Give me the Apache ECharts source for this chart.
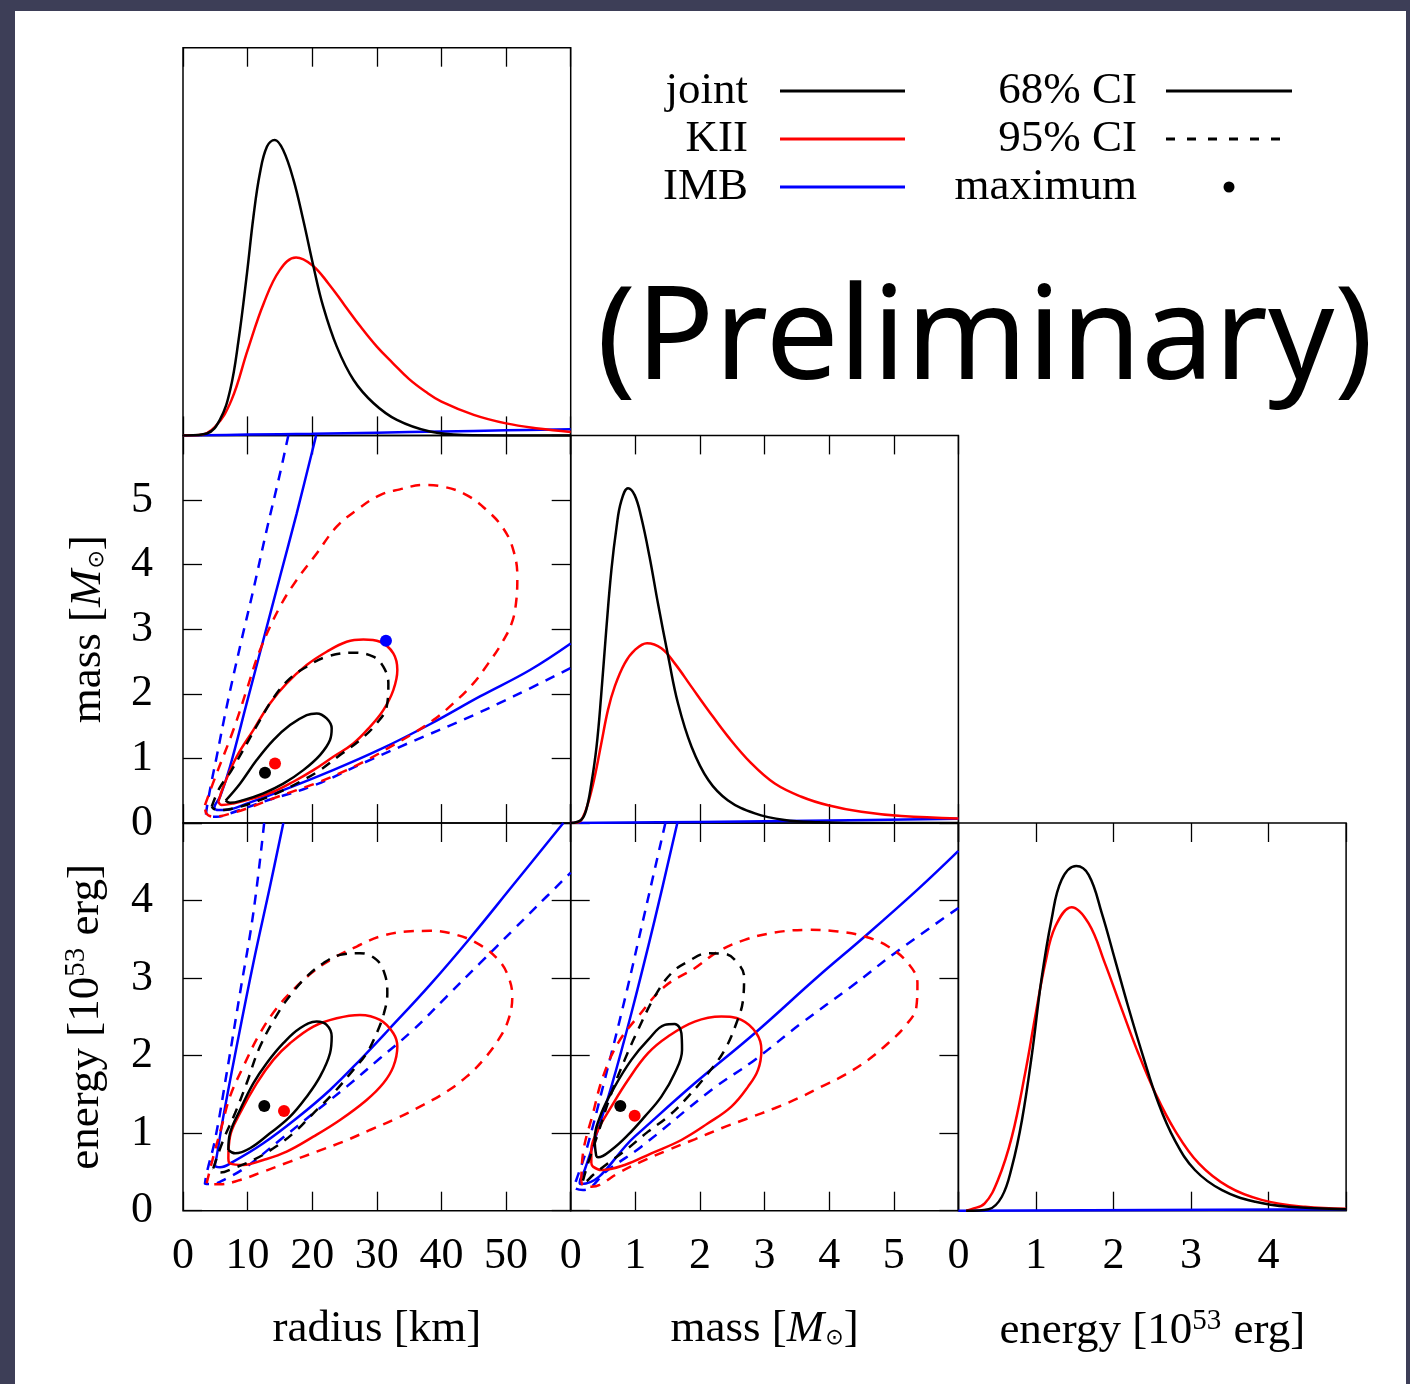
<!DOCTYPE html>
<html>
<head>
<meta charset="utf-8">
<script src="https://cdn.jsdelivr.net/npm/echarts/dist/echarts.min.js"></script>
<style>
  html, body { margin: 0; padding: 0; background: #3d3e57; }
  #paper { position: absolute; left: 15px; top: 11px; width: 1391px; height: 1373px; background: #ffffff; }
  #chart { position: absolute; left: 0; top: 0; width: 1410px; height: 1384px; }
</style>
</head>
<body>
<div id="paper"></div>
<div id="chart"></div>
<script>
// ---------- sample names, colours and credible levels ----------
const sampleNames = ['joint', 'KII', 'IMB'];
const sampleColors = ['#000000', '#ff0000', '#0000ff'];
const levelNames = ['68% CI', '95% CI', 'maximum'];

// ---------- tick labels ----------
const radiusTicks = [0, 10, 20, 30, 40, 50];
const massTicks = [0, 1, 2, 3, 4, 5];
const energyTicks = [0, 1, 2, 3, 4];

// ---------- 1D marginal posteriors (relative density, [value, height]) ----------
const radiusJoint = [[0,0],[0.6,0],[3.7,0.005],[5.7,0.04],[7.3,0.117],[8.6,0.246],[9.9,0.418],[10.9,0.564],[11.9,0.676],[13.0,0.745],[14.2,0.762],[15.5,0.736],[17.1,0.659],[18.6,0.556],[20.2,0.435],[21.7,0.332],[23.8,0.229],[26.4,0.143],[29.5,0.083],[33.1,0.040],[38.2,0.010],[43.4,0.001],[50,0],[60,0]];
const radiusKII = [[0,0],[2.5,0.001],[5,0.023],[7.5,0.091],[10,0.220],[12.5,0.341],[15,0.427],[17.5,0.459],[20,0.439],[22.5,0.392],[25,0.336],[27.5,0.280],[30,0.229],[32.5,0.186],[35,0.145],[37.5,0.113],[40,0.087],[45,0.053],[50,0.031],[55,0.018],[60,0.009]];
const radiusIMB = [[0,0],[10,0.002],[20,0.004],[30,0.007],[40,0.010],[50,0.013],[60,0.016]];

const massJoint = [[0,0],[0.16,0.008],[0.24,0.034],[0.32,0.102],[0.40,0.197],[0.47,0.326],[0.55,0.498],[0.63,0.653],[0.71,0.764],[0.78,0.829],[0.887,0.864],[0.99,0.846],[1.09,0.790],[1.22,0.687],[1.35,0.567],[1.51,0.429],[1.66,0.309],[1.87,0.197],[2.13,0.111],[2.43,0.059],[2.85,0.025],[3.31,0.008],[3.83,0.002],[4.5,0],[6,0]];
const massKII = [[0,0],[0.08,0.001],[0.164,0.008],[0.268,0.051],[0.371,0.119],[0.474,0.206],[0.577,0.292],[0.681,0.352],[0.836,0.412],[0.991,0.446],[1.181,0.464],[1.403,0.451],[1.61,0.412],[1.867,0.352],[2.125,0.292],[2.435,0.223],[2.796,0.154],[3.158,0.102],[3.57,0.068],[3.983,0.046],[4.499,0.029],[5.118,0.018],[6.0,0.012]];
const massIMB = [[0,0],[2,0.003],[4,0.007],[6,0.011]];

const energyJoint = [[0.1,0],[0.39,0.004],[0.56,0.036],[0.69,0.113],[0.82,0.234],[0.95,0.406],[1.07,0.595],[1.20,0.750],[1.33,0.853],[1.52,0.889],[1.68,0.866],[1.85,0.767],[2.02,0.647],[2.19,0.526],[2.37,0.406],[2.58,0.277],[2.79,0.182],[3.05,0.105],[3.40,0.053],[3.83,0.023],[4.26,0.010],[5.0,0.004]];
const energyKII = [[0.1,0],[0.17,0.004],[0.34,0.019],[0.51,0.079],[0.69,0.191],[0.86,0.354],[0.99,0.500],[1.12,0.638],[1.25,0.733],[1.46,0.783],[1.68,0.741],[1.89,0.638],[2.11,0.518],[2.32,0.406],[2.54,0.303],[2.79,0.208],[3.10,0.122],[3.48,0.062],[3.91,0.028],[4.47,0.010],[5.0,0.005]];
const energyIMB = [[0,0],[2.5,0.002],[5,0.004]];

// ---------- 2D credible contours: radius [km] vs mass [Msun] ----------
const rmJoint68 = [[6.6,0.35],[8.82,0.61],[11.40,0.975],[13.98,1.285],[16.56,1.517],[19.14,1.672],[20.69,1.698],[22.23,1.62],[23.01,1.466],[22.75,1.285],[21.2,1.053],[18.62,0.82],[15.52,0.61],[12.43,0.46],[9.33,0.356],[7.27,0.315],[6.6,0.35]];
const rmJoint95 = [[4.44,0.253],[5.62,0.537],[7.53,0.82],[11.92,1.594],[14.13,1.956],[16.56,2.24],[19.14,2.42],[22.23,2.575],[26.36,2.637],[29.45,2.575],[31.0,2.42],[31.78,2.162],[31.52,1.801],[29.97,1.543],[27.39,1.285],[24.30,1.053],[21.2,0.82],[18.1,0.64],[15.01,0.485],[11.92,0.356],[7.79,0.227],[5.21,0.201],[4.44,0.253]];
const rmKII68 = [[5.47,0.33],[6.24,0.562],[8.30,1.027],[10.88,1.44],[13.46,1.852],[16.04,2.162],[19.14,2.446],[22.23,2.652],[25.33,2.807],[27.91,2.843],[30.49,2.807],[32.55,2.626],[33.17,2.368],[32.55,2.059],[31.0,1.749],[28.94,1.491],[26.36,1.233],[23.26,1.027],[20.17,0.82],[17.07,0.64],[13.98,0.485],[10.88,0.382],[7.79,0.304],[5.98,0.279],[5.47,0.33]];
const rmKII95 = [[3.40,0.279],[5.21,0.769],[7.79,1.44],[9.85,2.059],[11.92,2.678],[15.01,3.349],[17.59,3.762],[20.69,4.174],[23.78,4.587],[26.88,4.845],[30.49,5.077],[33.58,5.165],[37.19,5.232],[40.29,5.206],[43.9,5.077],[46.99,4.845],[49.57,4.561],[51.12,4.226],[51.74,3.813],[51.53,3.4],[50.86,3.091],[49.31,2.781],[47.25,2.472],[44.93,2.162],[41.83,1.852],[38.74,1.594],[35.64,1.388],[32.55,1.207],[28.94,1.001],[25.33,0.82],[21.2,0.64],[17.59,0.511],[13.98,0.382],[10.88,0.263],[7.79,0.16],[4.69,0.098],[3.56,0.16],[3.40,0.279]];
const rmIMB68 = [[20.6,6.0],[19.91,5.72],[17.59,4.79],[15.01,3.813],[12.43,2.833],[9.85,1.852],[7.27,0.872],[5.73,0.408],[4.85,0.243],[5.47,0.201],[7.27,0.212],[9.85,0.30],[15.01,0.49],[22.75,0.80],[30.49,1.14],[38.22,1.53],[45.96,1.96],[53.7,2.37],[60,2.78]];
const rmIMB95 = [[16.3,6.0],[15.01,5.41],[12.95,4.536],[10.88,3.607],[8.82,2.73],[6.76,1.801],[5.21,1.027],[4.07,0.459],[3.56,0.124],[5.21,0.098],[7.27,0.15],[12.43,0.33],[20.17,0.58],[27.91,0.93],[35.64,1.27],[43.39,1.60],[51.12,1.96],[60,2.40]];
const rmMaxJoint = [12.69, 0.779];
const rmMaxKII = [14.24, 0.924];
const rmMaxIMB = [31.41, 2.822];

// ---------- 2D credible contours: radius [km] vs energy [1e53 erg] ----------
const reJoint68 = [[7.02,0.783],[7.27,0.998],[8.82,1.299],[10.88,1.643],[12.95,1.902],[15.52,2.16],[18.1,2.353],[20.69,2.439],[22.23,2.396],[23.01,2.246],[22.75,2.031],[21.2,1.729],[19.14,1.471],[16.56,1.213],[13.46,0.998],[10.37,0.805],[8.05,0.74],[7.02,0.783]];
const reJoint95 = [[4.69,0.547],[6.24,0.912],[8.05,1.256],[9.85,1.643],[11.92,2.117],[15.01,2.59],[17.07,2.826],[19.14,3.02],[21.71,3.192],[24.3,3.299],[27.39,3.321],[29.97,3.235],[31.26,3.041],[31.62,2.805],[31.1,2.547],[29.97,2.289],[28.42,2.031],[26.36,1.816],[23.26,1.514],[20.17,1.256],[17.07,0.998],[13.98,0.805],[10.88,0.654],[7.79,0.547],[5.73,0.491],[4.69,0.547]];
const reKII68 = [[7.02,0.676],[7.27,0.955],[8.82,1.256],[11.4,1.643],[13.98,1.945],[16.56,2.16],[20.17,2.375],[23.78,2.482],[27.39,2.525],[30.49,2.461],[32.55,2.289],[33.17,2.117],[32.55,1.858],[31.0,1.643],[28.42,1.428],[24.3,1.17],[20.17,0.955],[16.04,0.762],[12.43,0.654],[9.33,0.59],[7.27,0.611],[7.02,0.676]];
const reKII95 = [[3.66,0.353],[4.69,0.697],[5.98,1.084],[7.27,1.471],[9.33,1.858],[11.92,2.289],[14.5,2.611],[17.07,2.848],[20.17,3.084],[23.26,3.256],[26.88,3.407],[30.49,3.536],[34.61,3.6],[38.22,3.609],[42.35,3.557],[45.96,3.428],[48.8,3.235],[50.35,3.02],[50.96,2.762],[50.35,2.461],[48.8,2.203],[46.48,1.945],[43.9,1.729],[40.8,1.536],[37.19,1.364],[33.07,1.192],[28.94,1.041],[24.81,0.891],[20.69,0.762],[16.56,0.633],[12.43,0.504],[8.82,0.396],[5.73,0.34],[3.92,0.344],[3.66,0.353]];
const reIMB68 = [[15.53,5.0],[13.46,4.181],[10.88,3.192],[8.3,2.117],[6.24,1.213],[5.21,0.697],[4.95,0.59],[5.73,0.56],[7.79,0.633],[12.43,0.869],[17.59,1.192],[22.75,1.557],[27.65,1.966],[32.03,2.353],[38.22,2.912],[44.41,3.514],[51.12,4.203],[58.86,5.0]];
const reIMB95 = [[12.56,5.0],[10.88,3.837],[8.82,2.805],[6.76,1.772],[4.95,0.912],[3.66,0.482],[3.4,0.345],[4.43,0.344],[6.76,0.418],[9.85,0.568],[15.01,0.912],[20.17,1.256],[25.33,1.6],[30.49,1.966],[35.64,2.332],[40.8,2.762],[45.96,3.192],[51.12,3.622],[56.28,4.052],[60,4.36]];
const reMaxJoint = [12.58, 1.351];
const reMaxKII = [15.63, 1.286];

// ---------- 2D credible contours: mass [Msun] vs energy [1e53 erg] ----------
const meJoint68 = [[0.397,0.697],[0.371,0.912],[0.474,1.256],[0.681,1.6],[0.939,1.945],[1.197,2.203],[1.455,2.396],[1.609,2.409],[1.713,2.289],[1.723,2.074],[1.609,1.772],[1.403,1.471],[1.145,1.213],[0.887,0.977],[0.629,0.783],[0.423,0.689],[0.397,0.697]];
const meJoint95 = [[0.19,0.388],[0.268,0.611],[0.423,0.998],[0.629,1.514],[0.835,1.945],[1.042,2.332],[1.3,2.762],[1.558,3.063],[1.816,3.213],[2.125,3.321],[2.383,3.312],[2.564,3.213],[2.683,3.02],[2.667,2.719],[2.564,2.418],[2.383,2.074],[2.125,1.772],[1.816,1.471],[1.506,1.213],[1.197,1.02],[0.887,0.805],[0.577,0.611],[0.345,0.461],[0.216,0.375],[0.19,0.388]];
const meKII68 = [[0.319,0.611],[0.319,0.783],[0.423,1.041],[0.629,1.342],[0.887,1.686],[1.197,2.031],[1.506,2.246],[1.919,2.439],[2.332,2.504],[2.641,2.461],[2.874,2.289],[2.951,2.074],[2.899,1.816],[2.745,1.6],[2.487,1.342],[2.125,1.127],[1.713,0.912],[1.248,0.74],[0.835,0.59],[0.474,0.525],[0.345,0.568],[0.319,0.611]];
const meKII95 = [[0.165,0.375],[0.19,0.74],[0.345,1.256],[0.5,1.729],[0.732,2.16],[1.042,2.504],[1.455,2.891],[1.919,3.127],[2.28,3.342],[2.693,3.493],[3.157,3.587],[3.673,3.622],[4.138,3.6],[4.551,3.536],[4.912,3.407],[5.221,3.192],[5.366,2.934],[5.35,2.633],[5.17,2.375],[4.912,2.16],[4.602,1.945],[4.241,1.751],[3.88,1.6],[3.519,1.45],[3.157,1.321],[2.745,1.192],[2.332,1.063],[1.919,0.921],[1.506,0.783],[1.093,0.633],[0.732,0.482],[0.448,0.332],[0.319,0.31],[0.19,0.33],[0.165,0.375]];
const meIMB68 = [[1.65,5.0],[1.3,3.751],[0.939,2.547],[0.629,1.6],[0.371,0.912],[0.216,0.525],[0.139,0.362],[0.165,0.345],[0.99,0.955],[1.919,1.643],[2.848,2.289],[3.828,3.02],[4.551,3.536],[5.376,4.147],[6.0,4.64]];
const meIMB95 = [[1.465,5.0],[1.145,3.837],[0.835,2.719],[0.526,1.686],[0.242,0.783],[0.087,0.396],[0.051,0.31],[0.19,0.267],[0.577,0.525],[1.093,0.826],[2.177,1.557],[2.848,1.945],[3.57,2.418],[4.344,2.891],[5.015,3.321],[6.0,3.905]];
const meMaxJoint = [0.768, 1.351];
const meMaxKII = [0.99, 1.226];

// ---------- layout ----------
const cell = 387.7;
const colLeft = [183, 570.7, 958.4];
const rowTop = [47.7, 435.4, 823];
const SERIF = 'Liberation Serif';
const INK = '#000000';
const LINE_W = 2.5;

const ranges = {
  radius: { min: 0, max: 60, interval: 10, ticks: radiusTicks },
  mass:   { min: 0, max: 6,  interval: 1,  ticks: massTicks },
  energy: { min: 0, max: 5,  interval: 1,  ticks: energyTicks },
  density:{ min: 0, max: 1 }
};

const nameRich = {
  t:   { fontFamily: SERIF, fontSize: 45, color: INK },
  i:   { fontFamily: SERIF, fontSize: 45, fontStyle: 'italic', color: INK },
  sub: { fontFamily: 'DejaVu Sans', fontSize: 22, color: INK, padding: [18, 0, 0, 1] },
  sup: { fontFamily: SERIF, fontSize: 29, color: INK, padding: [0, 1, 20, 0] }
};
const axisNames = {
  radius: '{t|radius [km]}',
  mass:   '{t|mass [}{i|M}{sub|⊙}{t|]}',
  energy: '{t|energy [10}{sup|53}{t| erg]}'
};

// panel order: grid index -> column,row and variables
const panels = [
  { col: 0, row: 0, x: 'radius', y: 'density' },
  { col: 0, row: 1, x: 'radius', y: 'mass',    yLabels: true },
  { col: 1, row: 1, x: 'mass',   y: 'density' },
  { col: 0, row: 2, x: 'radius', y: 'energy',  xLabels: true, yLabels: true },
  { col: 1, row: 2, x: 'mass',   y: 'energy',  xLabels: true },
  { col: 2, row: 2, x: 'energy', y: 'density', xLabels: true }
];

const tickStyle = { show: true, inside: true, length: 19, lineStyle: { color: INK, width: 1.3 } };

function labelFormatter(ticks) {
  return v => (ticks.indexOf(Math.round(v * 1000) / 1000) >= 0 ? String(Math.round(v)) : '');
}

const grids = [], xAxes = [], yAxes = [];
panels.forEach((p, gi) => {
  grids.push({ left: colLeft[p.col], top: rowTop[p.row], width: cell, height: cell,
               show: true, borderColor: INK, borderWidth: 1.5, backgroundColor: 'transparent' });
  const xr = ranges[p.x], yr = ranges[p.y];
  ['bottom', 'top'].forEach(pos => {
    const withLabels = pos === 'bottom' && p.xLabels;
    xAxes.push({
      gridIndex: gi, type: 'value', position: pos,
      min: xr.min, max: xr.max, interval: xr.interval,
      axisLine: { show: false, onZero: false }, splitLine: { show: false }, axisTick: tickStyle,
      axisLabel: withLabels ? { show: true, margin: 24, fontFamily: SERIF, fontSize: 44, color: INK,
                                formatter: labelFormatter(xr.ticks) } : { show: false },
      name: withLabels ? axisNames[p.x] : '', nameLocation: 'middle', nameGap: 96,
      nameTextStyle: { rich: nameRich }
    });
  });
  ['left', 'right'].forEach(pos => {
    if (p.y === 'density') {
      yAxes.push({ gridIndex: gi, type: 'value', position: pos, min: 0, max: 1, show: false,
                   axisLine: { onZero: false } });
      return;
    }
    const withLabels = pos === 'left' && p.yLabels;
    yAxes.push({
      gridIndex: gi, type: 'value', position: pos,
      min: yr.min, max: yr.max, interval: yr.interval,
      axisLine: { show: false, onZero: false }, splitLine: { show: false }, axisTick: tickStyle,
      axisLabel: withLabels ? { show: true, margin: 30, fontFamily: SERIF, fontSize: 44, color: INK,
                                formatter: labelFormatter(yr.ticks) } : { show: false },
      name: withLabels ? axisNames[p.y] : '', nameLocation: 'middle', nameGap: 72,
      nameTextStyle: { rich: nameRich }
    });
  });
});

// ---------- series ----------
const series = [];
function curve(gi, data, colorIdx, dashed) {
  series.push({
    type: 'line', xAxisIndex: gi * 2, yAxisIndex: gi * 2, data: data,
    symbol: 'none', showSymbol: false, clip: true, silent: true, smooth: 0.4,
    lineStyle: { color: sampleColors[colorIdx], width: LINE_W, type: dashed ? [10, 8] : 'solid' },
    z: 3
  });
}
function maxPoint(gi, pt, colorIdx) {
  series.push({
    type: 'scatter', xAxisIndex: gi * 2, yAxisIndex: gi * 2, data: [pt],
    symbol: 'circle', symbolSize: 12, silent: true,
    itemStyle: { color: sampleColors[colorIdx], opacity: 1 }, z: 5
  });
}

// marginals
curve(0, radiusIMB, 2); curve(0, radiusKII, 1); curve(0, radiusJoint, 0);
curve(2, massIMB, 2);   curve(2, massKII, 1);   curve(2, massJoint, 0);
curve(5, energyIMB, 2); curve(5, energyKII, 1); curve(5, energyJoint, 0);

// radius - mass
curve(1, rmIMB95, 2, true); curve(1, rmIMB68, 2);
curve(1, rmKII95, 1, true); curve(1, rmKII68, 1);
curve(1, rmJoint95, 0, true); curve(1, rmJoint68, 0);
maxPoint(1, rmMaxJoint, 0); maxPoint(1, rmMaxKII, 1); maxPoint(1, rmMaxIMB, 2);

// radius - energy
curve(3, reIMB95, 2, true); curve(3, reIMB68, 2);
curve(3, reKII95, 1, true); curve(3, reKII68, 1);
curve(3, reJoint95, 0, true); curve(3, reJoint68, 0);
maxPoint(3, reMaxJoint, 0); maxPoint(3, reMaxKII, 1);

// mass - energy
curve(4, meIMB95, 2, true); curve(4, meIMB68, 2);
curve(4, meKII95, 1, true); curve(4, meKII68, 1);
curve(4, meJoint95, 0, true); curve(4, meJoint68, 0);
maxPoint(4, meMaxJoint, 0); maxPoint(4, meMaxKII, 1);

// ---------- legend block and watermark ----------
const legendRowsY = [91, 139, 187];
const graphic = [];
sampleNames.forEach((name, i) => {
  graphic.push({ type: 'text', x: 748, y: legendRowsY[i],
    style: { text: name, fontFamily: SERIF, fontSize: 45, fill: INK, align: 'right', verticalAlign: 'middle' } });
  graphic.push({ type: 'line', shape: { x1: 780, y1: legendRowsY[i], x2: 905, y2: legendRowsY[i] },
    style: { stroke: sampleColors[i], lineWidth: 2.8 } });
});
levelNames.forEach((name, i) => {
  graphic.push({ type: 'text', x: 1137, y: legendRowsY[i],
    style: { text: name, fontFamily: SERIF, fontSize: 45, fill: INK, align: 'right', verticalAlign: 'middle' } });
});
graphic.push({ type: 'line', shape: { x1: 1166, y1: legendRowsY[0], x2: 1292, y2: legendRowsY[0] },
  style: { stroke: INK, lineWidth: 2.8 } });
graphic.push({ type: 'line', shape: { x1: 1166, y1: legendRowsY[1], x2: 1292, y2: legendRowsY[1] },
  style: { stroke: INK, lineWidth: 2.8, lineDash: [9, 12] } });
graphic.push({ type: 'circle', shape: { cx: 1229, cy: legendRowsY[2], r: 5.5 }, style: { fill: INK } });
graphic.push({ type: 'text', x: 985, y: 342,
  style: { text: '(Preliminary)', fontFamily: 'Noto Sans', fontSize: 130, fill: INK,
           align: 'center', verticalAlign: 'middle' } });

const chart = echarts.init(document.getElementById('chart'), null, { renderer: 'canvas' });
chart.setOption({
  animation: false,
  backgroundColor: 'transparent',
  grid: grids,
  xAxis: xAxes,
  yAxis: yAxes,
  series: series,
  graphic: graphic
});
</script>
</body>
</html>
